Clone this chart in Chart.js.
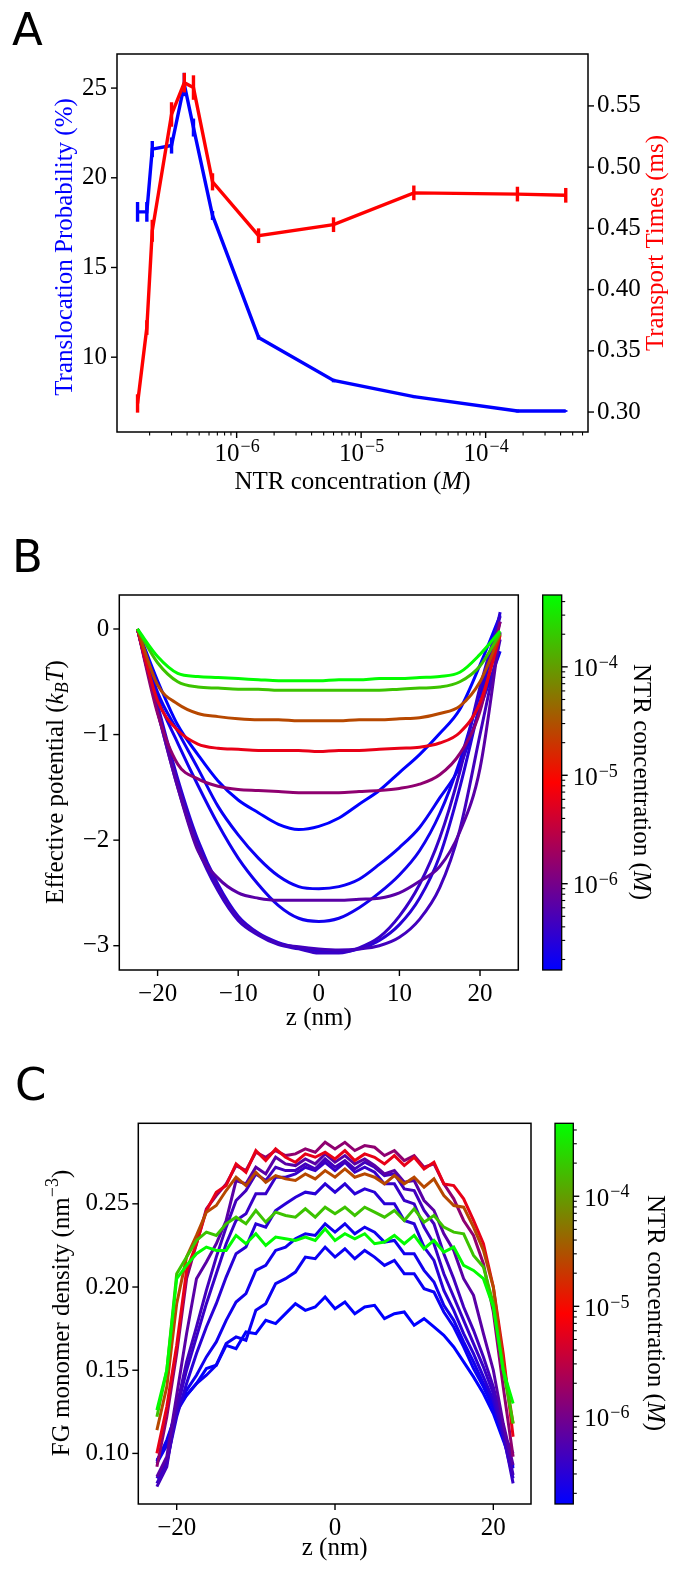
<!DOCTYPE html>
<html>
<head>
<meta charset="utf-8">
<script src="https://cdn.jsdelivr.net/npm/chart.js@4.4.1/dist/chart.umd.min.js"></script>
<style>
html, body { margin: 0; padding: 0; background: #fff; }
#wrap { position: relative; width: 675px; height: 1571px; }
canvas { position: absolute; left: 0; }
</style>
</head>
<body>
<div id="wrap">
<canvas id="panelA" width="675" height="520" style="top:0px"></canvas>
<canvas id="panelB" width="675" height="520" style="top:520px"></canvas>
<canvas id="panelC" width="675" height="531" style="top:1040px"></canvas>
</div>
<script>
// NTR concentrations (M), shared by all three panels
const conc = [1.6e-7, 1.9e-7, 2.1e-7, 3.0e-7, 3.8e-7, 4.5e-7, 6.4e-7, 1.5e-6, 6.0e-6, 2.65e-5, 1.8e-4, 4.4e-4];

// panel A
const probability = [18.1, 18.1, 21.6, 21.8, 25.2, 22.8, 17.9, 11.1, 8.7, 7.8, 7.0, 7.0];
const probabilityErr = [0.55, 0.55, 0.45, 0.45, 0.65, 0.5, 0.25, 0.12, 0.1, 0.08, 0.08, 0.05];
const transportTime = [0.307, 0.369, 0.448, 0.543, 0.569, 0.565, 0.488, 0.444, 0.453, 0.479, 0.478, 0.477];
const transportTimeErr = [0.0075, 0.006, 0.009, 0.01, 0.008, 0.01, 0.007, 0.006, 0.006, 0.006, 0.006, 0.006];
const probTicks = [10, 15, 20, 25];
const timeTicks = [0.30, 0.35, 0.40, 0.45, 0.50, 0.55];
const concTicks = [1e-6, 1e-5, 1e-4];

// panel B: effective potential (kBT) vs z (nm)
const zPot = [-22.5, -20, -17.5, -15, -12.5, -10, -7.5, -5, -2.5, 0, 2.5, 5, 7.5, 10, 12.5, 15, 17.5, 20, 22.5];
const pot01 = [0, -0.49, -0.91, -1.19, -1.44, -1.62, -1.74, -1.85, -1.90, -1.87, -1.79, -1.66, -1.53, -1.36, -1.19, -0.99, -0.76, -0.34, 0.13];
const pot02 = [0, -0.6, -0.97, -1.32, -1.68, -1.95, -2.17, -2.34, -2.44, -2.46, -2.44, -2.37, -2.23, -2.07, -1.88, -1.6, -1.3, -0.75, -0.21];
const pot03 = [0, -0.65, -1.08, -1.48, -1.85, -2.17, -2.42, -2.62, -2.74, -2.77, -2.74, -2.64, -2.5, -2.33, -2.1, -1.75, -1.25, -0.6, 0.07];
const pot04 = [0, -0.72, -1.42, -2.0, -2.42, -2.72, -2.88, -2.97, -3.02, -3.05, -3.06, -3.03, -2.95, -2.8, -2.55, -2.15, -1.5, -0.7, 0.16];
const pot05 = [0, -0.78, -1.5, -2.08, -2.48, -2.76, -2.9, -2.99, -3.03, -3.07, -3.07, -3.02, -2.92, -2.72, -2.42, -1.98, -1.35, -0.55, 0.12];
const pot06 = [0, -0.75, -1.46, -2.04, -2.45, -2.74, -2.89, -2.98, -3.01, -3.03, -3.04, -3.03, -3.0, -2.92, -2.75, -2.45, -1.9, -1.0, -0.1];
const pot07 = [0, -0.78, -1.5, -2.1, -2.36, -2.5, -2.55, -2.57, -2.57, -2.57, -2.57, -2.56, -2.55, -2.5, -2.39, -2.25, -1.92, -1.32, -0.03];
const pot08 = [0, -0.8, -1.28, -1.42, -1.49, -1.52, -1.53, -1.54, -1.55, -1.55, -1.55, -1.54, -1.53, -1.51, -1.47, -1.38, -1.18, -0.78, 0.07];
const pot09 = [0, -0.68, -0.96, -1.09, -1.13, -1.14, -1.15, -1.15, -1.15, -1.16, -1.15, -1.15, -1.14, -1.13, -1.12, -1.08, -0.98, -0.7, -0.06];
const pot10 = [0, -0.53, -0.71, -0.8, -0.83, -0.85, -0.86, -0.86, -0.87, -0.87, -0.87, -0.86, -0.86, -0.85, -0.84, -0.8, -0.73, -0.5, -0.05];
const pot11 = [0, -0.32, -0.5, -0.55, -0.56, -0.57, -0.57, -0.58, -0.58, -0.58, -0.58, -0.58, -0.58, -0.57, -0.56, -0.55, -0.5, -0.35, -0.04];
const pot12 = [0, -0.26, -0.42, -0.45, -0.46, -0.47, -0.48, -0.49, -0.49, -0.49, -0.48, -0.48, -0.47, -0.47, -0.46, -0.45, -0.41, -0.24, -0.02];
const potTicksX = [-20, -10, 0, 10, 20];
const potTicksY = [-3, -2, -1, 0];

// panel C: FG monomer density (nm^-3) vs z (nm)
const zDen = [-22.5, -21.25, -20, -18.75, -17.5, -16.25, -15, -13.75, -12.5, -11.25, -10, -8.75, -7.5, -6.25, -5, -3.75, -2.5, -1.25, 0,
              1.25, 2.5, 3.75, 5, 6.25, 7.5, 8.75, 10, 11.25, 12.5, 13.75, 15, 16.25, 17.5, 18.75, 20, 21.25, 22.5];
const rho01 = [0.096, 0.105, 0.128, 0.135, 0.142, 0.151, 0.153, 0.165, 0.163, 0.173, 0.172, 0.180, 0.178, 0.184, 0.190, 0.186, 0.188, 0.194, 0.187,
               0.191, 0.184, 0.188, 0.189, 0.181, 0.184, 0.185, 0.177, 0.181, 0.176, 0.171, 0.164, 0.155, 0.146, 0.136, 0.124, 0.108, 0.092];
const rho02 = [0.095, 0.108, 0.125, 0.135, 0.142, 0.147, 0.153, 0.166, 0.170, 0.168, 0.186, 0.190, 0.202, 0.205, 0.209, 0.218, 0.217, 0.224, 0.218,
               0.223, 0.217, 0.222, 0.218, 0.213, 0.216, 0.208, 0.208, 0.199, 0.197, 0.185, 0.176, 0.164, 0.151, 0.140, 0.127, 0.112, 0.100];
const rho03 = [0.094, 0.105, 0.126, 0.138, 0.147, 0.158, 0.167, 0.180, 0.191, 0.196, 0.210, 0.213, 0.222, 0.224, 0.229, 0.232, 0.231, 0.238, 0.233,
               0.238, 0.232, 0.236, 0.233, 0.227, 0.228, 0.220, 0.220, 0.210, 0.203, 0.189, 0.180, 0.167, 0.155, 0.142, 0.130, 0.112, 0.091];
const rho04 = [0.085, 0.095, 0.122, 0.142, 0.160, 0.176, 0.190, 0.206, 0.220, 0.224, 0.238, 0.236, 0.246, 0.250, 0.254, 0.257, 0.256, 0.262, 0.257,
               0.262, 0.256, 0.259, 0.257, 0.250, 0.250, 0.240, 0.238, 0.224, 0.216, 0.198, 0.186, 0.172, 0.160, 0.146, 0.132, 0.110, 0.085];
const rho05 = [0.082, 0.094, 0.126, 0.150, 0.170, 0.190, 0.208, 0.226, 0.240, 0.244, 0.256, 0.256, 0.266, 0.266, 0.268, 0.272, 0.270, 0.275, 0.270,
               0.275, 0.269, 0.272, 0.269, 0.262, 0.262, 0.252, 0.250, 0.236, 0.226, 0.208, 0.194, 0.180, 0.166, 0.152, 0.136, 0.112, 0.082];
const rho06 = [0.080, 0.092, 0.128, 0.155, 0.176, 0.198, 0.218, 0.236, 0.252, 0.258, 0.268, 0.264, 0.272, 0.270, 0.270, 0.274, 0.271, 0.277, 0.272,
               0.276, 0.271, 0.275, 0.272, 0.267, 0.268, 0.259, 0.258, 0.246, 0.238, 0.220, 0.205, 0.188, 0.174, 0.158, 0.140, 0.116, 0.087];
const rho07 = [0.086, 0.098, 0.135, 0.172, 0.205, 0.215, 0.226, 0.240, 0.264, 0.262, 0.272, 0.268, 0.278, 0.274, 0.273, 0.277, 0.274, 0.280, 0.275,
               0.279, 0.274, 0.277, 0.273, 0.268, 0.270, 0.263, 0.264, 0.252, 0.246, 0.232, 0.222, 0.205, 0.195, 0.172, 0.150, 0.118, 0.093];
const rho08 = [0.092, 0.122, 0.160, 0.205, 0.226, 0.247, 0.255, 0.262, 0.273, 0.270, 0.281, 0.278, 0.282, 0.279, 0.280, 0.283, 0.281, 0.287, 0.283,
               0.287, 0.282, 0.285, 0.284, 0.279, 0.282, 0.276, 0.279, 0.272, 0.274, 0.262, 0.253, 0.240, 0.231, 0.214, 0.185, 0.140, 0.098];
const rho09 = [0.100, 0.128, 0.165, 0.210, 0.226, 0.246, 0.257, 0.261, 0.274, 0.269, 0.282, 0.276, 0.283, 0.278, 0.275, 0.280, 0.278, 0.281, 0.277,
               0.282, 0.276, 0.280, 0.278, 0.274, 0.279, 0.273, 0.278, 0.271, 0.275, 0.262, 0.261, 0.253, 0.240, 0.226, 0.200, 0.160, 0.110];
const rho10 = [0.114, 0.140, 0.190, 0.218, 0.231, 0.245, 0.249, 0.258, 0.266, 0.261, 0.269, 0.263, 0.267, 0.265, 0.264, 0.268, 0.265, 0.270, 0.266,
               0.271, 0.266, 0.268, 0.266, 0.262, 0.267, 0.262, 0.266, 0.260, 0.265, 0.255, 0.249, 0.248, 0.236, 0.222, 0.200, 0.155, 0.118];
const rho11 = [0.122, 0.150, 0.208, 0.218, 0.228, 0.233, 0.231, 0.238, 0.242, 0.238, 0.246, 0.239, 0.245, 0.243, 0.242, 0.247, 0.242, 0.248, 0.244,
               0.248, 0.243, 0.248, 0.245, 0.242, 0.246, 0.240, 0.247, 0.239, 0.243, 0.236, 0.233, 0.232, 0.219, 0.212, 0.190, 0.150, 0.118];
const rho12 = [0.126, 0.150, 0.205, 0.213, 0.220, 0.224, 0.222, 0.222, 0.231, 0.226, 0.232, 0.225, 0.230, 0.229, 0.228, 0.230, 0.228, 0.235, 0.228,
               0.232, 0.229, 0.232, 0.226, 0.227, 0.231, 0.226, 0.231, 0.223, 0.228, 0.221, 0.224, 0.213, 0.210, 0.205, 0.188, 0.150, 0.130];
const denTicksX = [-20, 0, 20];
const denTicksY = [0.10, 0.15, 0.20, 0.25];

// colour bar range and labelled ticks
const cbMin = 1.6e-7, cbMax = 4.6e-4;
const cbTicks = [1e-6, 1e-5, 1e-4];

const potCurves = [pot01, pot02, pot03, pot04, pot05, pot06, pot07, pot08, pot09, pot10, pot11, pot12];
const denCurves = [rho01, rho02, rho03, rho04, rho05, rho06, rho07, rho08, rho09, rho10, rho11, rho12];

const SERIF = "'Liberation Serif', 'Times New Roman', serif";
const FS = 25;

// blue -> red -> lime, linear in log concentration
function cmap(c) {
  const t = (Math.log10(c) - Math.log10(cbMin)) / (Math.log10(cbMax) - Math.log10(cbMin));
  let r, g, b;
  if (t < 0.5) { const s = t * 2; r = 255 * s; g = 0; b = 255 * (1 - s); }
  else { const s = Math.min(1, (t - 0.5) * 2); r = 255 * (1 - s); g = 255 * s; b = 0; }
  return 'rgb(' + Math.round(r) + ',' + Math.round(g) + ',' + Math.round(b) + ')';
}

function minusFmt(v) { return v < 0 ? '\u2212' + Math.abs(v) : String(v); }
function logTicks(min, max) {
  const out = [];
  for (let e = Math.floor(Math.log10(min)); e <= Math.ceil(Math.log10(max)); e++) {
    for (let m = 1; m < 10; m++) {
      const v = m * Math.pow(10, e);
      if (v >= min && v <= max) out.push(v);
    }
  }
  return out;
}
function isMajor(v) { const e = Math.log10(v); return Math.abs(e - Math.round(e)) < 1e-6; }
// "10" followed by a raised exponent
function powParts(v) { return [{ t: '10' }, { t: minusFmt(Math.round(Math.log10(v))), sup: true, tick: true }]; }

function axisOpts(extra) {
  return Object.assign({
    grid: { display: false, drawTicks: false },
    border: { display: false },
    ticks: { color: '#000', font: { family: SERIF, size: FS }, autoSkip: false, maxRotation: 0, padding: 10 }
  }, extra);
}

// text made of pieces (italic, sub/superscript), anchored on (x, y)
function richText(ctx, parts, x, y, angle, color, align) {
  ctx.save();
  ctx.translate(x, y);
  ctx.rotate(angle);
  ctx.fillStyle = color;
  ctx.textBaseline = 'middle';
  ctx.textAlign = 'left';
  const fontOf = p => (p.it ? 'italic ' : '') + ((p.sub || p.sup) ? Math.round(FS * 0.7) : FS) + 'px ' + SERIF;
  let w = 0;
  parts.forEach(p => { ctx.font = fontOf(p); w += ctx.measureText(p.t).width; });
  let cx = align === 'left' ? 0 : -w / 2;
  parts.forEach(p => {
    ctx.font = fontOf(p);
    const dy = p.sub ? FS * 0.28 : (p.sup ? (p.tick ? -FS * 0.26 : -FS * 0.36) : 0);
    ctx.fillText(p.t, cx, dy);
    cx += ctx.measureText(p.t).width + (p.t === '10' ? 1 : 0);
  });
  ctx.restore();
}

const ntrLabel = [{ t: 'NTR concentration (' }, { t: 'M', it: true }, { t: ')' }];
const deco = {
  panelA: {
    letter: ['A', 12, 45],
    ticks: [['y', 'left', false], ['y1', 'right', false], ['x', 'bottom', true]],
    logLabels: ['x', concTicks, 454],
    titles: [
      [[{ t: 'Translocation Probability (%)' }], 65, 247, -Math.PI / 2, '#0000ff'],
      [[{ t: 'Transport Times (ms)' }], 656, 243, -Math.PI / 2, '#ff0000'],
      [ntrLabel, 352.5, 482, 0, '#000']
    ]
  },
  panelB: {
    letter: ['B', 12, 52],
    ticks: [['y', 'left', false], ['x', 'bottom', false]],
    colorbar: [542.7, 561.7],
    titles: [
      [[{ t: 'Effective potential (' }, { t: 'k', it: true }, { t: 'B', it: true, sub: true }, { t: 'T', it: true }, { t: ')' }], 56, 262, -Math.PI / 2, '#000'],
      [[{ t: 'z (nm)' }], 318.8, 498, 0, '#000'],
      [ntrLabel, 641, 262, Math.PI / 2, '#000']
    ]
  },
  panelC: {
    letter: ['C', 15, 60],
    ticks: [['y', 'left', false], ['x', 'bottom', false]],
    colorbar: [555, 573.3],
    titles: [
      [[{ t: 'FG monomer density (nm' }, { t: '\u22123', sup: true }, { t: ')' }], 62, 273, -Math.PI / 2, '#000'],
      [[{ t: 'z (nm)' }], 334.7, 508, 0, '#000'],
      [ntrLabel, 655, 273, Math.PI / 2, '#000']
    ]
  }
};

const decoPlugin = {
  id: 'deco',
  afterDatasetDraw(chart, args) {
    const ds = chart.data.datasets[args.index];
    if (!ds.errors) return;
    const ctx = chart.ctx, ys = chart.scales[ds.yAxisID];
    ctx.save();
    ctx.strokeStyle = ds.borderColor;
    ctx.lineWidth = 3.4;
    args.meta.data.forEach((pt, i) => {
      const v = ds.data[i].y, e = ds.errors[i];
      ctx.beginPath();
      ctx.moveTo(pt.x, ys.getPixelForValue(v - e));
      ctx.lineTo(pt.x, ys.getPixelForValue(v + e));
      ctx.stroke();
    });
    ctx.restore();
  },
  afterDraw(chart) {
    const cfg = deco[chart.canvas.id];
    const ctx = chart.ctx, a = chart.chartArea;
    ctx.save();
    ctx.strokeStyle = '#000';
    ctx.lineWidth = 1.5;
    ctx.strokeRect(a.left, a.top, a.right - a.left, a.bottom - a.top);
    cfg.ticks.forEach(([id, side, log]) => {
      const s = chart.scales[id];
      s.ticks.forEach(t => {
        const p = s.getPixelForValue(t.value);
        const major = !log || isMajor(t.value);
        const len = major ? 6 : 3.5;
        ctx.lineWidth = major ? 1.4 : 1.1;
        ctx.beginPath();
        if (side === 'left') { ctx.moveTo(a.left, p); ctx.lineTo(a.left - len, p); }
        else if (side === 'right') { ctx.moveTo(a.right, p); ctx.lineTo(a.right + len, p); }
        else { ctx.moveTo(p, a.bottom); ctx.lineTo(p, a.bottom + len); }
        ctx.stroke();
      });
    });
    if (cfg.logLabels) {
      const [id, vals, y] = cfg.logLabels;
      const s = chart.scales[id];
      vals.forEach(v => richText(ctx, powParts(v), s.getPixelForValue(v), y, 0, '#000'));
    }
    if (cfg.colorbar) {
      const [x0, x1] = cfg.colorbar;
      const s = chart.scales.cb;
      const top = s.getPixelForValue(cbMax), bot = s.getPixelForValue(cbMin);
      const grad = ctx.createLinearGradient(0, bot, 0, top);
      grad.addColorStop(0, 'rgb(0,0,255)');
      grad.addColorStop(0.5, 'rgb(255,0,0)');
      grad.addColorStop(1, 'rgb(0,255,0)');
      ctx.fillStyle = grad;
      ctx.fillRect(x0, top, x1 - x0, bot - top);
      ctx.lineWidth = 1.3;
      ctx.strokeRect(x0, top, x1 - x0, bot - top);
      logTicks(cbMin, cbMax).forEach(v => {
        const p = s.getPixelForValue(v);
        const major = isMajor(v);
        ctx.lineWidth = major ? 1.4 : 1.1;
        ctx.beginPath();
        ctx.moveTo(x1, p); ctx.lineTo(x1 + (major ? 6 : 3.5), p);
        ctx.stroke();
      });
      cbTicks.forEach(v => richText(ctx, powParts(v), x1 + 11, s.getPixelForValue(v) + 3, 0, '#000', 'left'));
    }
    cfg.titles.forEach(([parts, x, y, ang, col]) => richText(ctx, parts, x, y, ang, col));
    ctx.font = '45px "DejaVu Sans"';
    ctx.fillStyle = '#000';
    ctx.textAlign = 'left';
    ctx.textBaseline = 'alphabetic';
    ctx.fillText(cfg.letter[0], cfg.letter[1], cfg.letter[2]);
    ctx.restore();
  }
};

const baseOptions = {
  responsive: false,
  animation: false,
  events: [],
  elements: { point: { radius: 0 } },
  plugins: { legend: { display: false }, tooltip: { enabled: false } }
};

// ---------- Panel A ----------
new Chart(document.getElementById('panelA'), {
  type: 'line',
  data: {
    datasets: [
      {
        data: conc.map((c, i) => ({ x: c, y: transportTime[i] })),
        errors: transportTimeErr,
        borderColor: '#ff0000', borderWidth: 3.4, yAxisID: 'y1', order: 1
      },
      {
        data: conc.map((c, i) => ({ x: c, y: probability[i] })),
        errors: probabilityErr,
        borderColor: '#0000ff', borderWidth: 3.4, yAxisID: 'y', order: 2
      }
    ]
  },
  options: Object.assign({}, baseOptions, {
    layout: { padding: { top: 54, left: 0, right: 0, bottom: 0 } },
    scales: {
      x: axisOpts({
        type: 'logarithmic', min: 1.094e-7, max: 6.64e-4,
        afterBuildTicks: s => { s.ticks = logTicks(s.min, s.max).map(v => ({ value: v })); },
        afterFit: s => { s.height = 88; },
        // labels for the decades are drawn by the deco plugin (raised exponent)
        ticks: { color: '#000', font: { family: SERIF, size: FS }, autoSkip: false, maxRotation: 0, padding: 9, callback: () => '' }
      }),
      y: axisOpts({
        type: 'linear', position: 'left', min: 5.83, max: 26.9,
        afterBuildTicks: s => { s.ticks = probTicks.map(v => ({ value: v })); },
        afterFit: s => { s.width = 117; },
        ticks: { color: '#000', font: { family: SERIF, size: FS }, autoSkip: false, padding: 10, callback: v => String(v) }
      }),
      y1: axisOpts({
        type: 'linear', position: 'right', min: 0.2837, max: 0.5924,
        afterBuildTicks: s => { s.ticks = timeTicks.map(v => ({ value: v })); },
        afterFit: s => { s.width = 87; },
        ticks: { color: '#000', font: { family: SERIF, size: FS }, autoSkip: false, padding: 9, callback: v => v.toFixed(2) }
      })
    }
  }),
  plugins: [decoPlugin]
});

// ---------- Panel B ----------
new Chart(document.getElementById('panelB'), {
  type: 'line',
  data: {
    datasets: potCurves.map((arr, i) => ({
      data: arr.map((v, j) => ({ x: zPot[j], y: v })),
      borderColor: cmap(conc[i]),
      borderWidth: 3,
      cubicInterpolationMode: 'monotone',
      order: potCurves.length - i
    }))
  },
  options: Object.assign({}, baseOptions, {
    layout: { padding: { top: 75, left: 0, right: 156.7, bottom: 0 } },
    scales: {
      x: axisOpts({
        type: 'linear', min: -24.75, max: 24.75,
        afterBuildTicks: s => { s.ticks = potTicksX.map(v => ({ value: v })); },
        afterFit: s => { s.height = 70; },
        ticks: { color: '#000', font: { family: SERIF, size: FS }, autoSkip: false, maxRotation: 0, padding: 9, callback: v => minusFmt(v) }
      }),
      y: axisOpts({
        type: 'linear', position: 'left', min: -3.23, max: 0.322,
        afterBuildTicks: s => { s.ticks = potTicksY.map(v => ({ value: v })); },
        afterFit: s => { s.width = 119.3; },
        ticks: { color: '#000', font: { family: SERIF, size: FS }, autoSkip: false, padding: 10, callback: v => minusFmt(v) }
      }),
      cb: { type: 'logarithmic', axis: 'y', position: 'right', display: false, min: cbMin, max: cbMax }
    }
  }),
  plugins: [decoPlugin]
});

// ---------- Panel C ----------
new Chart(document.getElementById('panelC'), {
  type: 'line',
  data: {
    datasets: denCurves.map((arr, i) => ({
      data: arr.map((v, j) => ({ x: zDen[j], y: v })),
      borderColor: cmap(conc[i]),
      borderWidth: 3,
      order: denCurves.length - i
    }))
  },
  options: Object.assign({}, baseOptions, {
    layout: { padding: { top: 83.3, left: 0, right: 144, bottom: 0 } },
    scales: {
      x: axisOpts({
        type: 'linear', min: -24.85, max: 24.76,
        afterBuildTicks: s => { s.ticks = denTicksX.map(v => ({ value: v })); },
        afterFit: s => { s.height = 67; },
        ticks: { color: '#000', font: { family: SERIF, size: FS }, autoSkip: false, maxRotation: 0, padding: 9, callback: v => minusFmt(v) }
      }),
      y: axisOpts({
        type: 'linear', position: 'left', min: 0.0696, max: 0.2984,
        afterBuildTicks: s => { s.ticks = denTicksY.map(v => ({ value: v })); },
        afterFit: s => { s.width = 138.3; },
        ticks: { color: '#000', font: { family: SERIF, size: FS }, autoSkip: false, padding: 9, callback: v => v.toFixed(2) }
      }),
      cb: { type: 'logarithmic', axis: 'y', position: 'right', display: false, min: cbMin, max: cbMax }
    }
  }),
  plugins: [decoPlugin]
});
</script>
</body>
</html>
